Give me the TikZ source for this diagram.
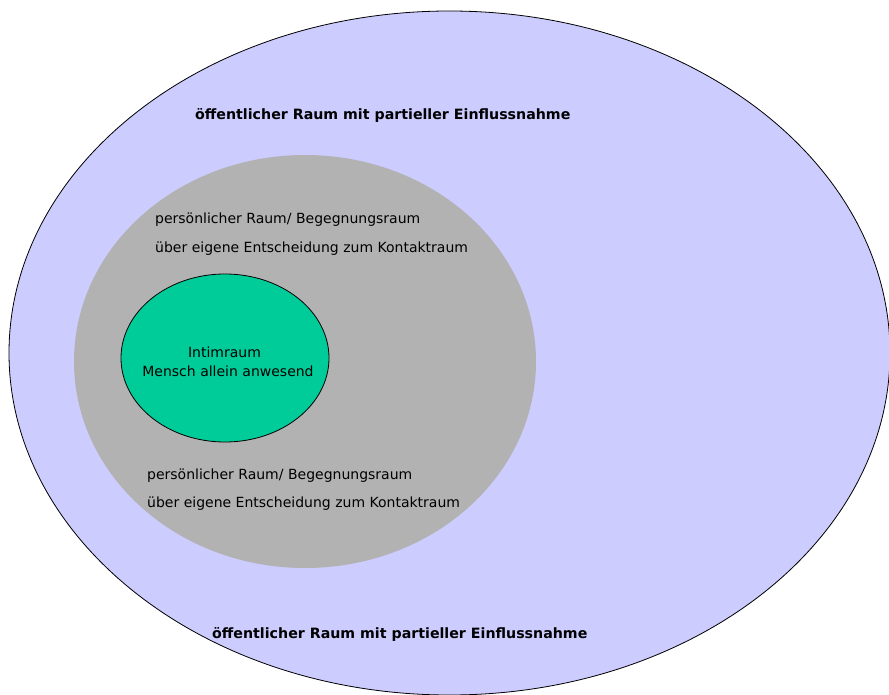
\documentclass[tikz,border=0pt]{standalone}
\usepackage{fontspec}
\setmainfont{DejaVu Sans}
\usetikzlibrary{shapes.geometric}
\definecolor{outerfill}{HTML}{CCCCFF}
\definecolor{midfill}{HTML}{B2B2B2}
\definecolor{innerfill}{HTML}{00CC99}
\tikzset{
  zone/.style={ellipse, inner sep=0pt, outer sep=0pt},
  lbl/.style={anchor=west, inner sep=0pt, font=\fontsize{14}{17}\selectfont},
  boldlbl/.style={anchor=west, inner sep=0pt, font=\fontsize{14.2}{17}\selectfont\bfseries},
  ctr/.style={anchor=center, inner sep=0pt, font=\fontsize{14}{17}\selectfont}
}
\begin{document}
\begin{tikzpicture}[x=1pt,y=-1pt]
\useasboundingbox (0,0) rectangle (889,695);
\clip (0,0) rectangle (889,695);
\fill[white] (0,0) rectangle (889,695);
\node[zone, draw=black, line width=0.8pt, fill=outerfill, minimum width=881pt, minimum height=684pt] (outer) at (449.5,353) {};
\node[zone, fill=midfill, minimum width=462pt, minimum height=413pt] (mid) at (305,361.5) {};
\node[zone, draw=black, line width=0.8pt, fill=innerfill, minimum width=208pt, minimum height=168pt] (inner) at (225,358) {};
\node[boldlbl] (t1) at (195,115.5) {öffentlicher Raum mit partieller Einflussnahme};
\node[boldlbl] (t2) at (212,634.5) {öffentlicher Raum mit partieller Einflussnahme};
\node[lbl] (p1) at (155,219.5) {persönlicher Raum/ Begegnungsraum};
\node[lbl] (p2) at (155,248.5) {über eigene Entscheidung zum Kontaktraum};
\node[lbl] (p3) at (147,475.5) {persönlicher Raum/ Begegnungsraum};
\node[lbl] (p4) at (147,503.5) {über eigene Entscheidung zum Kontaktraum};
\node[ctr] (i1) at (224.5,352) {Intimraum};
\node[ctr] (i2) at (228,371) {Mensch allein anwesend};
\end{tikzpicture}
\end{document}
